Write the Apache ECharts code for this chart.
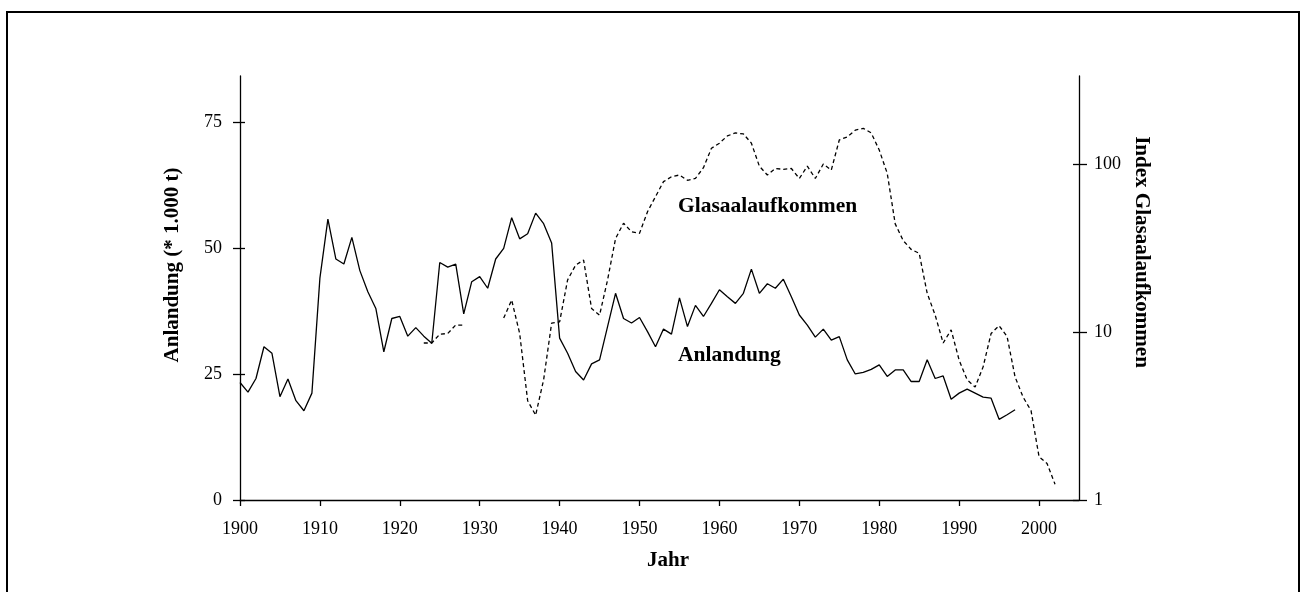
<!DOCTYPE html>
<html><head><meta charset="utf-8">
<script src="https://cdn.jsdelivr.net/npm/echarts@6/dist/echarts.min.js"></script>
<style>
html,body{margin:0;padding:0;background:#fff;}
#frame{position:absolute;left:6px;top:11px;width:1290px;height:600px;border:2px solid #000;}
#chart{position:absolute;left:0;top:0;width:1307px;height:592px;}
</style></head>
<body><div id="frame"></div><div id="chart"></div>
<script>
// ---- data ----
const anlandungStart = 1900;
const anlandung = [
  23.3, 21.4, 24.1, 30.4, 29.1, 20.5, 24.0, 19.7, 17.7, 21.2,
  44.0, 55.7, 47.8, 46.8, 52.1, 45.5, 41.3, 38.0, 29.4, 36.0,
  36.4, 32.5, 34.2, 32.5, 31.1, 47.1, 46.2, 46.8, 36.9, 43.3,
  44.3, 42.0, 47.8, 49.9, 56.0, 51.8, 52.8, 56.9, 54.8, 51.0,
  32.1, 29.1, 25.5, 23.8, 27.0, 27.8, 34.4, 41.0, 36.0, 35.1,
  36.2, 33.4, 30.4, 33.9, 32.9, 40.1, 34.4, 38.6, 36.4, 39.0,
  41.7, 40.3, 39.0, 41.0, 45.8, 41.0, 42.9, 42.0, 43.8, 40.3,
  36.7, 34.7, 32.3, 33.9, 31.7, 32.4, 27.8, 25.0, 25.3, 25.9,
  26.8, 24.5, 25.8, 25.8, 23.5, 23.5, 27.8, 24.1, 24.6, 20.0,
  21.2, 22.0, 21.2, 20.4, 20.2, 16.0, 16.9, 17.9
];
const glasStart = 1923;
const glas = [
  8.6, 8.6, 9.7, 9.8, 11.0, 11.0,            // 1923-1928
  null, null, null, null,                    // 1929-1932
  12.1, 15.5, 9.8, 3.9, 3.2, 5.2, 11.3,      // 1933-1939
  11.5, 20.4, 25, 26.8, 13.8, 12.6, 20.4, 36, 44.4, 39.5,   // 1940-1949
  38.7, 52, 63.9, 78.5, 84, 86, 80, 82, 95, 124,            // 1950-1959
  133, 147, 153, 151, 133, 97, 86, 94, 93, 94,              // 1960-1969
  82, 97, 82, 100, 92, 139, 145, 159, 163, 153,             // 1970-1979
  121, 88, 44, 35, 31, 29.4, 17, 12.6, 8.6, 10.3,           // 1980-1989
  6.8, 5.2, 4.7, 6.2, 9.8, 10.9, 9.4, 5.4, 4.1, 3.4,        // 1990-1999
  1.81, 1.65, 1.24                                          // 2000-2002
];
const xTicks = [1900, 1910, 1920, 1930, 1940, 1950, 1960, 1970, 1980, 1990, 2000];
const leftTicks = [0, 25, 50, 75];
const rightTicks = [1, 10, 100];
const xTitle = 'Jahr';
const leftTitle = 'Anlandung (* 1.000 t)';
const rightTitle = 'Index Glasaalaufkommen';
const label1 = 'Glasaalaufkommen';
const label2 = 'Anlandung';

// ---- chart ----
const FONT = '"Liberation Serif", "Times New Roman", serif';
const chart = echarts.init(document.getElementById('chart'), null, {renderer: 'canvas'});
const lineC = '#000';
const tickLabel = {fontFamily: FONT, fontSize: 18, color: '#000'};
const titleStyle = {fontFamily: FONT, fontSize: 21, fontWeight: 'bold', fill: '#000'};
const annoStyle = {fontFamily: FONT, fontSize: 21.5, fontWeight: 'bold', fill: '#000'};
const plain = v => String(v);

// main plot box
const G = {left: 240, right: 228, top: 76, bottom: 92};
const leftMax = 84.1, rightMax = 334;
const plotH = 592 - G.top - G.bottom;
// helper grids whose top sits exactly on the highest labelled tick, so the inner halves of
// the crossing ticks land only on 0/25/50/75 and 1/10/100
const leftHelperTop = (592 - G.bottom) - plotH * (75 / leftMax);
const rightHelperTop = (592 - G.bottom) - plotH * (2 / Math.log10(rightMax));

const hiddenX = gi => ({
  type: 'value', gridIndex: gi, min: 1900, max: 2005, interval: 10,
  axisLine: {show: false}, axisTick: {show: false}, axisLabel: {show: false}, splitLine: {show: false}
});

chart.setOption({
  animation: false,
  backgroundColor: 'transparent',
  grid: [
    Object.assign({}, G),
    {left: G.left, right: G.right, top: leftHelperTop, bottom: G.bottom},
    {left: G.left, right: G.right, top: rightHelperTop, bottom: G.bottom}
  ],
  xAxis: [
    {
      type: 'value', gridIndex: 0, min: 1900, max: 2005, interval: 10,
      axisLine: {lineStyle: {color: lineC, width: 1.3}},
      axisTick: {length: 6, customValues: xTicks, lineStyle: {color: lineC, width: 1.3}},
      axisLabel: Object.assign({margin: 20, customValues: xTicks, formatter: plain}, tickLabel),
      splitLine: {show: false}
    },
    hiddenX(1),
    hiddenX(2)
  ],
  yAxis: [
    {
      type: 'value', gridIndex: 0, position: 'left', min: 0, max: leftMax,
      axisLine: {show: true, lineStyle: {color: lineC, width: 1.3}},
      axisTick: {show: true, length: 7, customValues: leftTicks, lineStyle: {color: lineC, width: 1.3}},
      axisLabel: Object.assign({margin: 18, customValues: leftTicks, formatter: plain}, tickLabel),
      splitLine: {show: false}
    },
    {
      type: 'log', gridIndex: 0, logBase: 10, position: 'right', min: 1, max: rightMax,
      axisLine: {show: true, lineStyle: {color: lineC, width: 1.3}},
      axisTick: {show: true, length: 8, customValues: rightTicks, lineStyle: {color: lineC, width: 1.3}},
      axisLabel: Object.assign({margin: 15, customValues: rightTicks, formatter: plain}, tickLabel),
      splitLine: {show: false}
    },
    {
      type: 'value', gridIndex: 1, position: 'left', min: 0, max: 75, interval: 25,
      axisLine: {show: false},
      axisTick: {show: true, inside: true, length: 5, lineStyle: {color: lineC, width: 1.3}},
      axisLabel: {show: false},
      splitLine: {show: false}
    },
    {
      type: 'log', gridIndex: 2, logBase: 10, position: 'right', min: 1, max: 100, interval: 1,
      axisLine: {show: false},
      axisTick: {show: true, inside: true, length: 6, lineStyle: {color: lineC, width: 1.3}},
      axisLabel: {show: false},
      splitLine: {show: false}
    }
  ],
  series: [
    {
      type: 'line', xAxisIndex: 0, yAxisIndex: 0, symbol: 'none',
      data: anlandung.map((v, i) => [anlandungStart + i, v]),
      lineStyle: {color: lineC, width: 1.3}
    },
    {
      type: 'line', xAxisIndex: 0, yAxisIndex: 1, symbol: 'none', connectNulls: false,
      data: glas.map((v, i) => [glasStart + i, v == null ? '-' : v]),
      lineStyle: {color: lineC, width: 1.3, type: [4, 3]}
    }
  ],
  graphic: [
    {type: 'text', x: 173, y: 265, rotation: Math.PI / 2,
      style: Object.assign({text: leftTitle, align: 'center', verticalAlign: 'middle'}, titleStyle)},
    {type: 'text', x: 1141, y: 252, rotation: -Math.PI / 2,
      style: Object.assign({text: rightTitle, align: 'center', verticalAlign: 'middle'}, titleStyle)},
    {type: 'text', x: 668, y: 561,
      style: Object.assign({text: xTitle, align: 'center', verticalAlign: 'middle'}, titleStyle)},
    {type: 'text', x: 678, y: 206,
      style: Object.assign({text: label1, align: 'left', verticalAlign: 'middle'}, annoStyle)},
    {type: 'text', x: 678, y: 355,
      style: Object.assign({text: label2, align: 'left', verticalAlign: 'middle'}, annoStyle)}
  ]
});
</script>
</body></html>
